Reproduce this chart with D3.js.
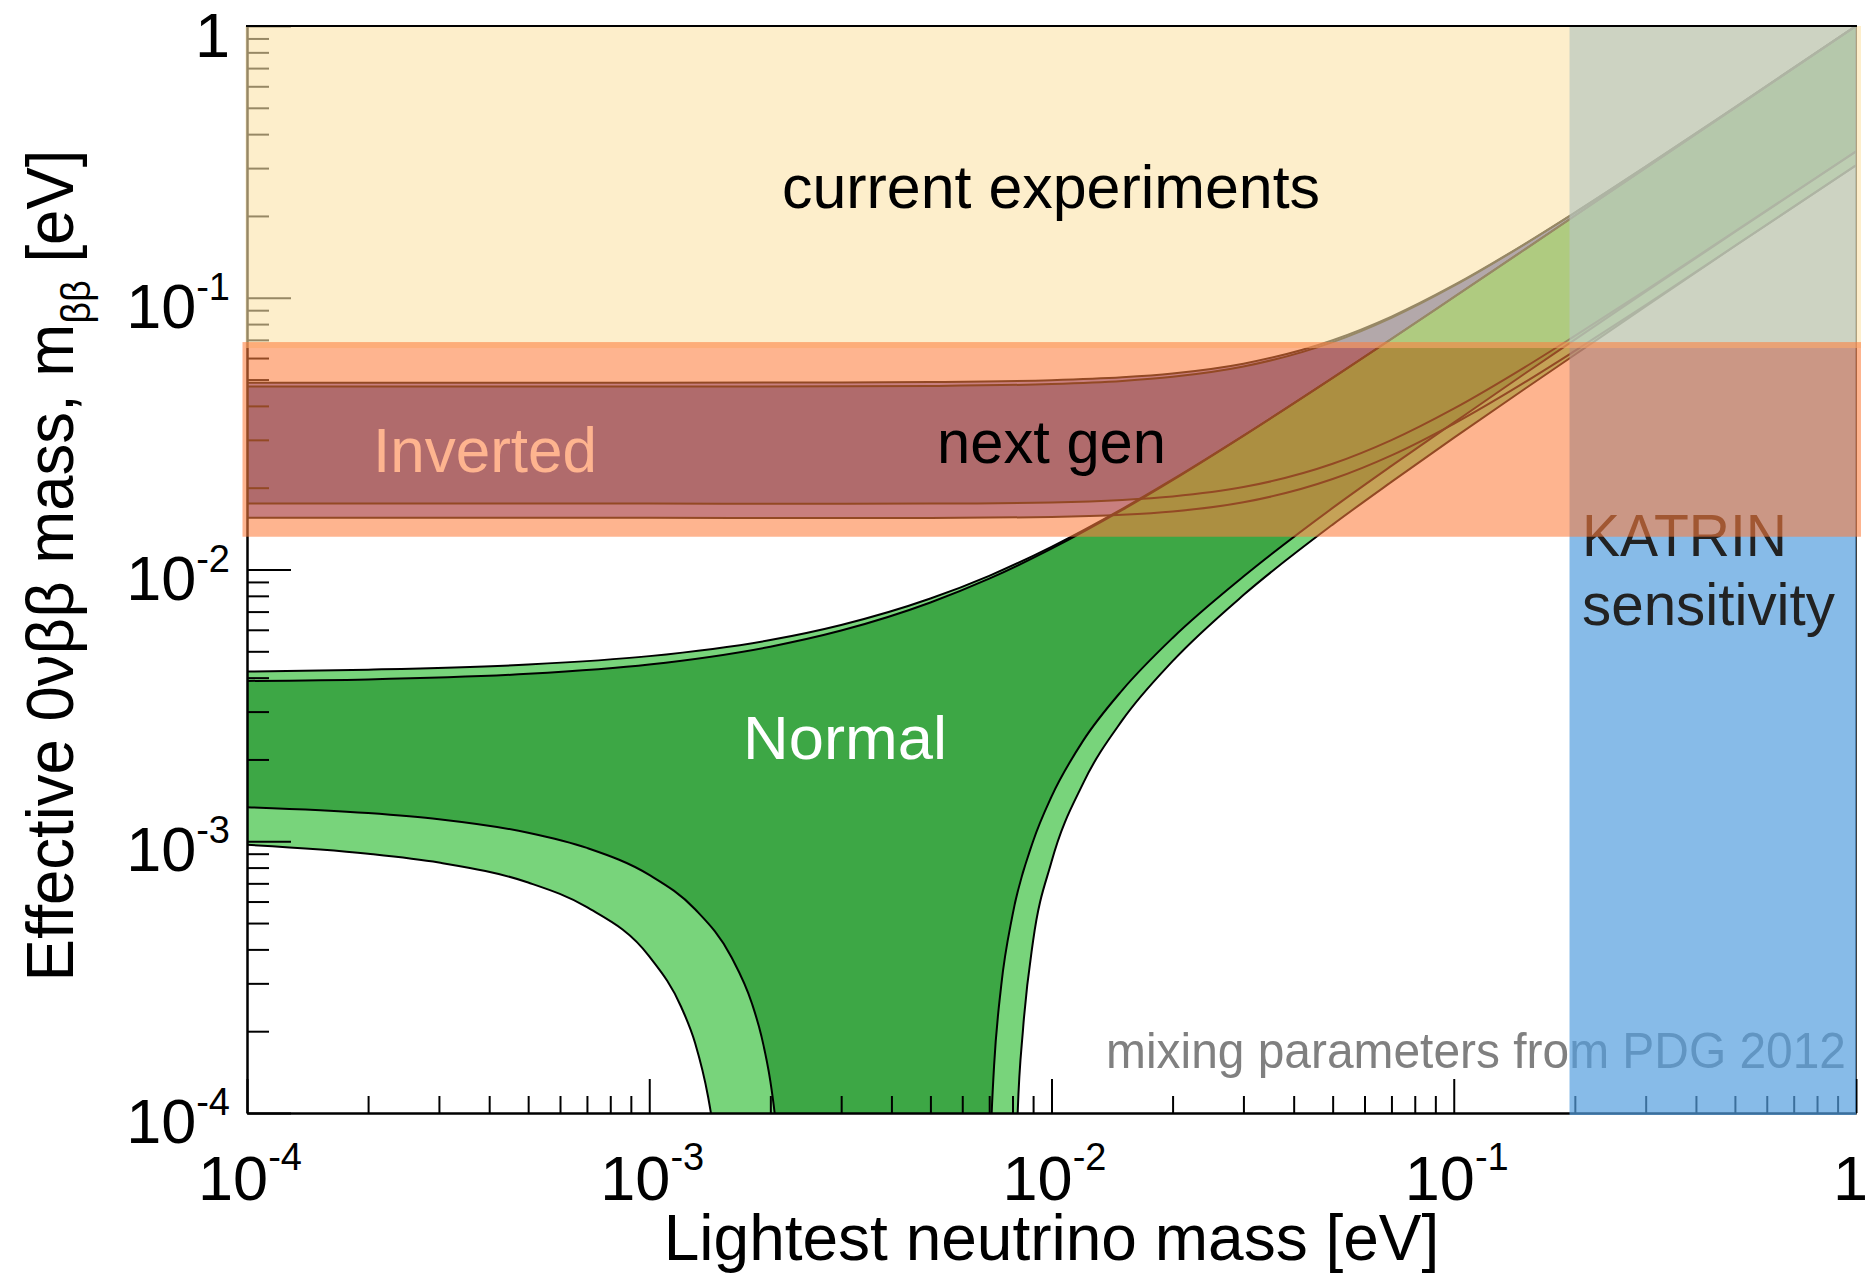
<!DOCTYPE html>
<html>
<head>
<meta charset="utf-8">
<script src="https://cdn.jsdelivr.net/npm/d3@7"></script>
<style>
  html, body { margin: 0; padding: 0; background: #fff; }
  svg { display: block; font-family: "Liberation Sans", Arial, Helvetica, sans-serif; }
</style>
</head>
<body>
<svg id="chart" width="1868" height="1274"></svg>
<script>
// ---------------------------------------------------------------
// Effective Majorana mass vs lightest neutrino mass
// (mixing parameters from PDG 2012)
// Each curve: [lightest mass (eV), m_bb (eV)]
// ---------------------------------------------------------------

// Normal ordering, wider (parameter-uncertainty) band
const nhUpperOuter = [
  [1e-4, 4.21e-3], [2e-4, 4.28e-3], [5e-4, 4.47e-3], [1e-3, 4.80e-3], [2e-3, 5.50e-3],
  [3e-3, 6.25e-3], [5e-3, 7.82e-3], [7e-3, 9.48e-3], [1e-2, 1.212e-2], [1.5e-2, 1.672e-2],
  [2e-2, 2.145e-2], [3e-2, 3.11e-2], [5e-2, 5.075e-2], [7e-2, 7.055e-2], [0.1, 0.1005],
  [0.2, 0.2003], [0.5, 0.5], [1, 1]
];
const nhLowerLeftOuter = [
  [1e-4, 9.7e-4], [2e-4, 9.0e-4], [3e-4, 8.35e-4], [5e-4, 7.05e-4], [7e-4, 5.72e-4],
  [1e-3, 3.77e-4], [1.2e-3, 2.46e-4], [1.3e-3, 1.81e-4], [1.4e-3, 1.15e-4], [1.42e-3, 1.02e-4],
  [1.47e-3, 7.0e-5]
];
const nhLowerRightOuter = [
  [8.1e-3, 4.0e-5], [8.24e-3, 1.0e-4], [8.5e-3, 2.05e-4], [9e-3, 4.3e-4], [1e-2, 8.4e-4],
  [1.2e-2, 1.64e-3], [1.5e-2, 2.79e-3], [2e-2, 4.6e-3], [3e-2, 8.05e-3], [5e-2, 1.463e-2],
  [7e-2, 2.1e-2], [0.1, 3.05e-2], [0.15, 4.615e-2], [0.2, 6.17e-2], [0.3, 9.29e-2],
  [0.5, 0.155], [1, 0.307]
];

// Normal ordering, best-fit band
const nhUpperBest = [
  [1e-4, 3.89e-3], [2e-4, 3.94e-3], [5e-4, 4.13e-3], [1e-3, 4.47e-3], [2e-3, 5.20e-3],
  [3e-3, 5.96e-3], [5e-3, 7.56e-3], [7e-3, 9.25e-3], [1e-2, 1.193e-2], [1.5e-2, 1.657e-2],
  [2e-2, 2.133e-2], [3e-2, 3.105e-2], [5e-2, 5.07e-2], [7e-2, 7.05e-2], [0.1, 0.1004],
  [0.2, 0.2003], [0.5, 0.5], [1, 1]
];
const nhLowerLeftBest = [
  [1e-4, 1.335e-3], [2e-4, 1.27e-3], [3e-4, 1.205e-3], [5e-4, 1.075e-3], [7e-4, 9.45e-4],
  [1e-3, 7.52e-4], [1.3e-3, 5.62e-4], [1.6e-3, 3.75e-4], [1.8e-3, 2.53e-4], [1.9e-3, 1.92e-4],
  [2.0e-3, 1.31e-4], [2.05e-3, 1.0e-4], [2.1e-3, 7.0e-5]
];
const nhLowerRightBest = [
  [7.0e-3, 5.5e-5], [7.1e-3, 1.0e-4], [7.2e-3, 1.5e-4], [7.5e-3, 2.95e-4], [8e-3, 5.35e-4],
  [9e-3, 1.0e-3], [1e-2, 1.46e-3], [1.2e-2, 2.35e-3], [1.5e-2, 3.6e-3], [2e-2, 5.6e-3],
  [3e-2, 9.42e-3], [5e-2, 1.685e-2], [7e-2, 2.405e-2], [0.1, 3.47e-2], [0.15, 5.25e-2],
  [0.2, 7.01e-2], [0.3, 0.1053], [0.5, 0.1745], [1, 0.345]
];

// Inverted ordering
const ihUpperOuter = [
  [1e-4, 0.0487], [1e-3, 0.04871], [3e-3, 0.04879], [5e-3, 0.04896], [1e-2, 0.04972],
  [1.5e-2, 0.05096], [2e-2, 0.05265], [3e-2, 0.0572], [5e-2, 0.0698], [7e-2, 0.08527],
  [0.1, 0.1112], [0.15, 0.1577], [0.2, 0.2058], [0.3, 0.3039], [0.5, 0.5024], [1, 1.001]
];
const ihLowerOuter = [
  [1e-4, 0.01552], [1e-3, 0.0155], [3e-3, 0.01546], [5e-3, 0.01546], [1e-2, 0.01559],
  [1.5e-2, 0.01589], [2e-2, 0.01635], [3e-2, 0.01767], [5e-2, 0.02152], [7e-2, 0.02631],
  [0.1, 0.03438], [0.15, 0.04881], [0.2, 0.06375], [0.3, 0.0939], [0.5, 0.1552], [1, 0.307]
];
const ihUpperBest = [
  [1e-4, 0.0471], [1e-3, 0.04711], [3e-3, 0.0472], [5e-3, 0.04736], [1e-2, 0.04815],
  [1.5e-2, 0.04943], [2e-2, 0.05117], [3e-2, 0.05584], [5e-2, 0.06869], [7e-2, 0.08437],
  [0.1, 0.1105], [0.15, 0.1572], [0.2, 0.2055], [0.3, 0.3037], [0.5, 0.5022], [1, 1.001]
];
const ihLowerBest = [
  [1e-4, 0.0175], [1e-3, 0.01748], [3e-3, 0.01746], [5e-3, 0.01748], [1e-2, 0.01766],
  [1.5e-2, 0.01803], [2e-2, 0.01857], [3e-2, 0.0201], [5e-2, 0.02449], [7e-2, 0.02993],
  [0.1, 0.03907], [0.15, 0.05545], [0.2, 0.0724], [0.3, 0.1065], [0.5, 0.1755], [1, 0.346]
];

// Experimental reach
const currentRange = [0.0653, 1];      // m_bb, current experiments
const nextGenRange = [0.0132, 0.0687]; // m_bb, next generation
const katrinRange  = [0.194, 1];       // lightest mass, KATRIN sensitivity

// Axis decades and their labels
const decadeTicks  = [1e-4, 1e-3, 1e-2, 1e-1, 1];
const decadeLabels = [["10", "-4"], ["10", "-3"], ["10", "-2"], ["10", "-1"], ["1", ""]];

// ---------------------------------------------------------------
const plot = { left: 247, right: 1856, top: 26, bottom: 1113 };

const x = d3.scaleLog().domain([1e-4, 1]).range([plot.left, plot.right]);
const y = d3.scaleLog().domain([1e-4, 1]).range([plot.bottom, plot.top]);

const svg = d3.select("#chart");

svg.append("defs").append("clipPath").attr("id", "plotClip")
  .append("rect")
  .attr("x", plot.left).attr("y", plot.top)
  .attr("width", plot.right - plot.left).attr("height", plot.bottom - plot.top);

const line = d3.line()
  .x(d => x(d[0]))
  .y(d => y(d[1]))
  .curve(d3.curveMonotoneX);

const rev = a => a.slice().reverse();

// closed outline built from consecutive boundary pieces
function bandPath(...pieces) {
  return pieces.map((p, i) => {
    const s = line(p);
    return i === 0 ? s : "L" + s.slice(1);
  }).join("") + "Z";
}

const gBands = svg.append("g").attr("clip-path", "url(#plotClip)");

// inverted ordering (underneath)
gBands.append("path")
  .attr("d", bandPath(ihUpperOuter, rev(ihLowerOuter)))
  .attr("fill", "#8281d6");
gBands.append("path")
  .attr("d", bandPath(ihUpperBest, rev(ihLowerBest)))
  .attr("fill", "#4751ac");

// normal ordering
gBands.append("path")
  .attr("d", bandPath(nhUpperOuter, rev(nhLowerRightOuter), rev(nhLowerLeftOuter)))
  .attr("fill", "#78d47b");
gBands.append("path")
  .attr("d", bandPath(nhUpperBest, rev(nhLowerRightBest), rev(nhLowerLeftBest)))
  .attr("fill", "#3da745");

// boundary curves
const curves = [
  ihUpperOuter, ihUpperBest, ihLowerBest, ihLowerOuter,
  nhUpperOuter, nhUpperBest, nhLowerLeftBest, nhLowerLeftOuter, nhLowerRightBest, nhLowerRightOuter
];
gBands.selectAll("path.curve")
  .data(curves)
  .join("path")
  .attr("class", "curve")
  .attr("d", line)
  .attr("fill", "none")
  .attr("stroke", "#000")
  .attr("stroke-width", 2);

// ---------------- axes ----------------
const allTicks = x.ticks();
const isDecade = v => Math.abs(Math.log10(v) - Math.round(Math.log10(v))) < 1e-9;
const minorTicks = allTicks.filter(v => !isDecade(v));
const majorTicks = allTicks.filter(isDecade);

function styleAxis(g) {
  g.selectAll(".domain").attr("stroke", "#000").attr("stroke-width", 2);
  g.selectAll(".tick line").attr("stroke", "#000").attr("stroke-width", 2);
  g.selectAll(".tick text").remove();
}

const gAxes = svg.append("g");
gAxes.append("g").attr("transform", `translate(${plot.left},0)`)
  .call(d3.axisLeft(y).tickValues(minorTicks).tickSizeInner(-22).tickSizeOuter(0).tickFormat(""))
  .call(styleAxis);
gAxes.append("g").attr("transform", `translate(${plot.left},0)`)
  .call(d3.axisLeft(y).tickValues(majorTicks).tickSizeInner(-44).tickSizeOuter(0).tickFormat(""))
  .call(styleAxis);
gAxes.append("g").attr("transform", `translate(0,${plot.bottom})`)
  .call(d3.axisBottom(x).tickValues(minorTicks).tickSizeInner(-17).tickSizeOuter(0).tickFormat(""))
  .call(styleAxis);
gAxes.append("g").attr("transform", `translate(0,${plot.bottom})`)
  .call(d3.axisBottom(x).tickValues(majorTicks).tickSizeInner(-34).tickSizeOuter(0).tickFormat(""))
  .call(styleAxis);

// right frame edge
gAxes.append("line")
  .attr("x1", plot.right).attr("x2", plot.right)
  .attr("y1", plot.top).attr("y2", plot.bottom)
  .attr("stroke", "#000").attr("stroke-width", 1.5);

// ---------------- labels inside the plot ----------------
svg.append("text")
  .attr("x", 1106).attr("y", 1068)
  .attr("font-size", 50).attr("fill", "#808080")
  .attr("textLength", 740).attr("lengthAdjust", "spacingAndGlyphs")
  .text("mixing parameters from PDG 2012");

svg.append("text")
  .attr("x", 743).attr("y", 759)
  .attr("font-size", 62).attr("fill", "#fff")
  .attr("textLength", 204).attr("lengthAdjust", "spacingAndGlyphs")
  .text("Normal");

svg.append("text")
  .attr("x", 373).attr("y", 472)
  .attr("font-size", 63).attr("fill", "#fff")
  .attr("textLength", 224).attr("lengthAdjust", "spacingAndGlyphs")
  .text("Inverted");

// KATRIN sensitivity region
svg.append("rect")
  .attr("x", x(katrinRange[0])).attr("y", plot.top)
  .attr("width", x(katrinRange[1]) - x(katrinRange[0]))
  .attr("height", plot.bottom - plot.top + 2)
  .attr("fill", "rgb(84,158,222)").attr("fill-opacity", 0.7);

svg.append("text")
  .attr("x", 1582).attr("y", 556)
  .attr("font-size", 60).attr("fill", "#222")
  .attr("textLength", 205).attr("lengthAdjust", "spacingAndGlyphs")
  .text("KATRIN");
svg.append("text")
  .attr("x", 1582).attr("y", 625)
  .attr("font-size", 60).attr("fill", "#222")
  .attr("textLength", 253).attr("lengthAdjust", "spacingAndGlyphs")
  .text("sensitivity");

// current experiments and next generation reach
svg.append("rect")
  .attr("x", plot.left - 1.5).attr("y", y(currentRange[1]))
  .attr("width", plot.right - plot.left + 6.5)
  .attr("height", y(currentRange[0]) - y(currentRange[1]))
  .attr("fill", "rgb(252,227,168)").attr("fill-opacity", 0.6);
svg.append("rect")
  .attr("x", plot.left - 4.5).attr("y", y(nextGenRange[1]))
  .attr("width", plot.right - plot.left + 9.5)
  .attr("height", y(nextGenRange[0]) - y(nextGenRange[1]))
  .attr("fill", "rgb(253,126,62)").attr("fill-opacity", 0.58);

svg.append("text")
  .attr("x", 782).attr("y", 208)
  .attr("font-size", 62).attr("fill", "#000")
  .attr("textLength", 538).attr("lengthAdjust", "spacingAndGlyphs")
  .text("current experiments");
svg.append("text")
  .attr("x", 937).attr("y", 463)
  .attr("font-size", 62).attr("fill", "#000")
  .attr("textLength", 229).attr("lengthAdjust", "spacingAndGlyphs")
  .text("next gen");

// top frame edge
svg.append("line")
  .attr("x1", plot.left - 1).attr("x2", plot.right + 1)
  .attr("y1", plot.top).attr("y2", plot.top)
  .attr("stroke", "#000").attr("stroke-width", 2);

// ---------------- tick labels ----------------
const gLab = svg.append("g").attr("fill", "#000");

decadeTicks.forEach((v, i) => {
  const [base, exp] = decadeLabels[i];
  // y axis
  const ty = gLab.append("text")
    .attr("x", plot.left - 17).attr("y", y(v) + (exp ? 30 : 31))
    .attr("text-anchor", "end").attr("font-size", 63);
  ty.append("tspan").text(base);
  if (exp) ty.append("tspan").attr("font-size", 38).attr("dy", -28).text(exp);
  // x axis
  const tx = gLab.append("text")
    .attr("x", exp ? x(v) + 3 : 1868).attr("y", 1200)
    .attr("text-anchor", exp ? "middle" : "end").attr("font-size", 63);
  tx.append("tspan").text(base);
  if (exp) tx.append("tspan").attr("font-size", 38).attr("dy", -30).text(exp);
});

// axis titles
svg.append("text")
  .attr("x", (plot.left + plot.right) / 2).attr("y", 1260)
  .attr("text-anchor", "middle").attr("font-size", 64)
  .text("Lightest neutrino mass [eV]");

const yt = svg.append("text")
  .attr("transform", `translate(73,${(plot.top + plot.bottom) / 2 - 4}) rotate(-90) scale(1,1.06)`)
  .attr("text-anchor", "middle").attr("font-size", 63.5);
yt.append("tspan").text("Effective 0νββ mass, m");
yt.append("tspan").attr("font-size", 38).attr("dy", 16).text("ββ");
yt.append("tspan").attr("dy", -16).text(" [eV]");
</script>
</body>
</html>
